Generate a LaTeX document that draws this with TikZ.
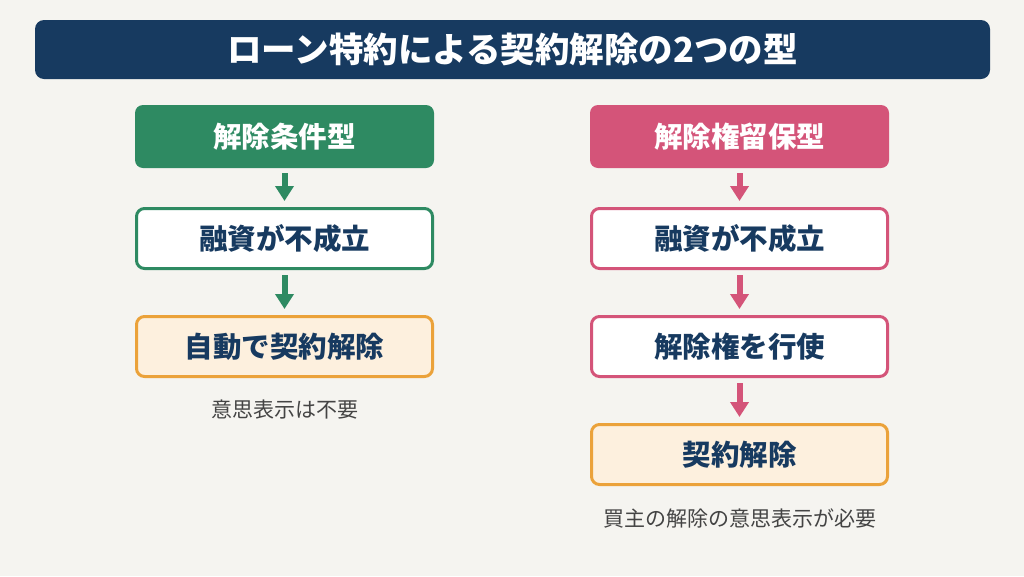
\documentclass[tikz,border=0pt]{standalone}
\usepackage{fontspec}
\setmainfont{Noto Sans CJK JP}
\usepackage{tikz}
\usetikzlibrary{arrows.meta}
\definecolor{paper}{HTML}{F5F4F0}
\definecolor{navy}{HTML}{173A60}
\definecolor{condgreen}{HTML}{2E8A62}
\definecolor{rightpink}{HTML}{D45479}
\definecolor{endorange}{HTML}{EBA23A}
\definecolor{endfill}{HTML}{FDF0DE}
\definecolor{notegray}{HTML}{444444}

\begin{document}
\begin{tikzpicture}[x=1pt,y=-1pt,
	every node/.style={font=\fontsize{28.5}{32}\selectfont\bfseries},
	box/.style={rounded corners=8pt, minimum width=296pt, minimum height=60pt, line width=3pt, inner sep=0pt, text=navy},
	head/.style={rounded corners=8pt, minimum width=299pt, minimum height=63pt, inner sep=0pt, text=white},
	flow/.style={line width=6pt, -{Triangle[width=18pt,length=15pt]}, shorten <=5pt, shorten >=6pt},
	note/.style={font=\fontsize{21}{24}\selectfont, text=notegray}]
	\useasboundingbox (0,0) rectangle (1024,576);
	\fill[paper] (0,0) rectangle (1024,576);
	\node[fill=navy, rounded corners=9pt, minimum width=955pt, minimum height=59pt, text=white, font=\fontsize{34.5}{38}\selectfont\bfseries] (title) at (512.5,49.5) {ローン特約による契約解除の2つの型};

	\node[head, fill=condgreen] (lhead) at (284.5,136.5) {解除条件型};
	\node[box, draw=condgreen, fill=white] (lfail) at (284.5,238.5) {融資が不成立};
	\node[box, draw=endorange, fill=endfill] (lend) at (284.5,346.5) {自動で契約解除};
	\node[note] (lnote) at (284.5,410) {意思表示は不要};
	\draw[flow, condgreen] (lhead) -- (lfail);
	\draw[flow, condgreen] (lfail) -- (lend);

	\node[head, fill=rightpink] (rhead) at (739.5,136.5) {解除権留保型};
	\node[box, draw=rightpink, fill=white] (rfail) at (739.5,238.5) {融資が不成立};
	\node[box, draw=rightpink, fill=white] (ruse) at (739.5,346.5) {解除権を行使};
	\node[box, draw=endorange, fill=endfill] (rend) at (739.5,454.5) {契約解除};
	\node[note] (rnote) at (739.5,518) {買主の解除の意思表示が必要};
	\draw[flow, rightpink] (rhead) -- (rfail);
	\draw[flow, rightpink] (rfail) -- (ruse);
	\draw[flow, rightpink] (ruse) -- (rend);
\end{tikzpicture}
\end{document}
